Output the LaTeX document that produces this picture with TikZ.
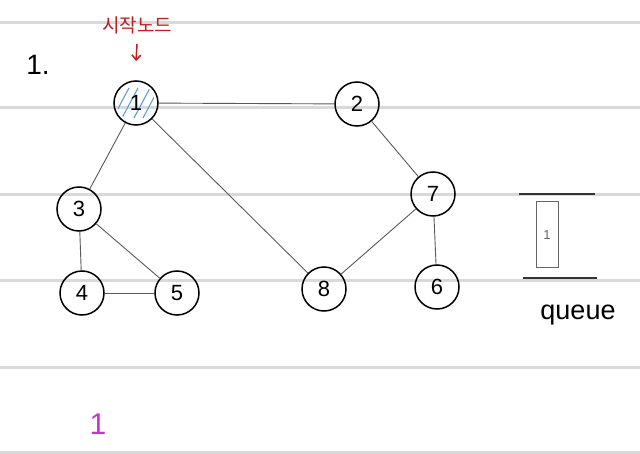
\documentclass[tikz,border=0pt]{standalone}
\usepackage{fontspec}
\usetikzlibrary{arrows.meta}
\setmainfont{Liberation Sans}
\newfontfamily\kofont{Noto Sans CJK KR}
\definecolor{hatch}{RGB}{90,160,220}
\definecolor{mag}{RGB}{200,50,210}
\definecolor{redtxt}{RGB}{190,30,30}
\begin{document}
\begin{tikzpicture}[x=1pt,y=-1pt,
  vtx/.style={circle,draw=black,line width=1.5pt,minimum size=44pt,inner sep=0pt,font=\fontsize{22}{22}\selectfont},
  edge/.style={draw=black!65,line width=0.9pt},
  rule/.style={draw=black!15,line width=3pt},
  qline/.style={draw=black!80,line width=1.8pt}]
\useasboundingbox (0,0) rectangle (640,454);
\fill[white] (0,0) rectangle (640,454);
\foreach \yy in {23,108,195,281,367,452} \draw[rule] (0,\yy) -- (640,\yy);
% hatch on node 1
\begin{scope}
\clip (136,103) circle (19);
\foreach \d in {-15,-6,6,15} \draw[hatch,line width=1.1pt] (136+\d-8,103+15) -- (136+\d+8,103-15);
\end{scope}
\node[vtx] (n1) at (136,103) {1};
\node[vtx] (n2) at (357,104) {2};
\node[vtx] (n3) at (79,209) {3};
\node[vtx] (n4) at (82,293) {4};
\node[vtx] (n5) at (177,293) {5};
\node[vtx] (n8) at (324,289) {8};
\node[vtx] (n7) at (433,194) {7};
\node[vtx] (n6) at (437,287) {6};
\draw[edge] (n1) -- (n2);
\draw[edge] (n1) -- (n3);
\draw[edge] (n1) -- (n8);
\draw[edge] (n2) -- (n7);
\draw[edge] (n3) -- (n4);
\draw[edge] (n3) -- (n5);
\draw[edge] (n4) -- (n5);
\draw[edge] (n7) -- (n8);
\draw[edge] (n7) -- (n6);
% labels
\node[text=redtxt,font=\kofont\fontsize{19}{19}\selectfont] (start) at (137,25) {시작노드};
\coordinate (a1) at (137,44);
\coordinate (a2) at (136,61);
\draw[redtxt,line width=1.5pt,-{Straight Barb[length=5pt,width=9pt]}] (a1) -- (a2);
\node[font=\fontsize{28}{28}\selectfont] (title) at (38,65) {1.};
% queue
\coordinate (qt1) at (519,194); \coordinate (qt2) at (595,194);
\coordinate (qb1) at (523,278); \coordinate (qb2) at (597,278);
\draw[qline] (qt1) -- (qt2);
\draw[qline] (qb1) -- (qb2);
\node[draw=black!60,line width=1pt,minimum width=22pt,minimum height=66pt,inner sep=0pt,font=\fontsize{13}{13}\selectfont,text=black!60] (q1) at (547,235) {1};
\node[font=\fontsize{27}{27}\selectfont] (qlabel) at (578,315) {queue};
\node[text=mag,font=\fontsize{30}{30}\selectfont] (m1) at (98,424) {1};
\end{tikzpicture}
\end{document}
